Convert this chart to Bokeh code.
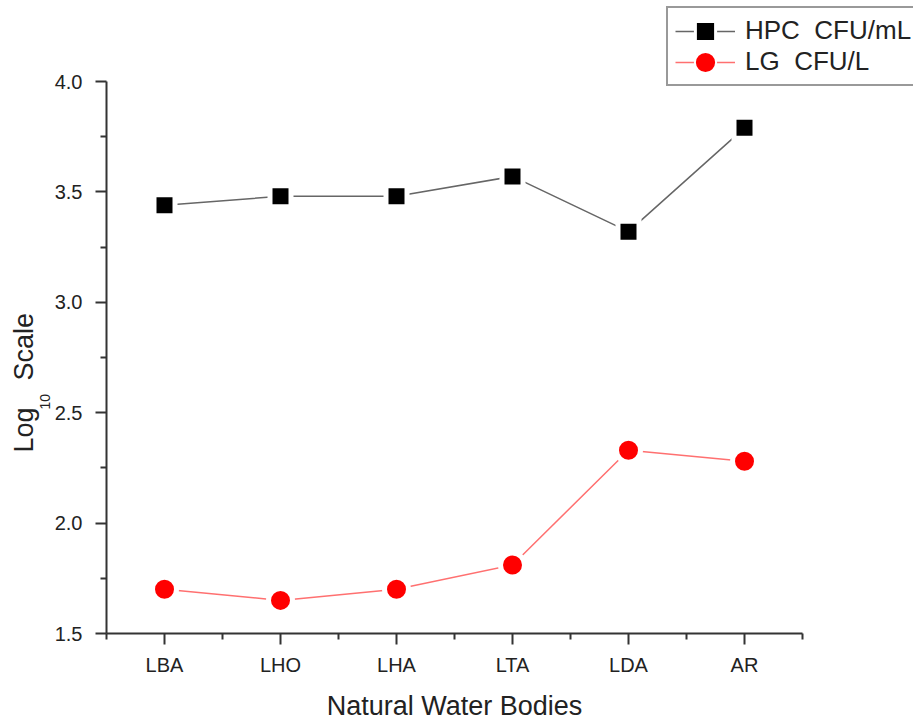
import math
from bokeh.plotting import figure
from bokeh.models import Range1d, FixedTicker, Legend, LegendItem, Label, PrintfTickFormatter
from bokeh.embed import file_html
from bokeh.resources import INLINE

# ---- data ----
sites = ["LBA", "LHO", "LHA", "LTA", "LDA", "AR"]
hpc_log = [3.44, 3.48, 3.48, 3.57, 3.32, 3.79]
lg_log = [1.70, 1.65, 1.70, 1.81, 2.33, 2.28]
y_ticks = [1.5, 2.0, 2.5, 3.0, 3.5, 4.0]
y_minor = [1.75, 2.25, 2.75, 3.25, 3.75]
series_labels = ["HPC  CFU/mL", "LG  CFU/L"]
x_title = "Natural Water Bodies"

xs = list(range(len(sites)))
x_minor = [i - 0.5 for i in range(len(sites) + 1)]

FONT = "Liberation Sans"
TXT = "#222222"
AX = "#333333"

# layout (pixels): canvas size and where the axes box sits on it
W, H = 913, 719
L, R, T, B = 106, 802, 81, 633
X0, X1 = -0.5, len(sites) - 0.5
Y0, Y1 = y_ticks[0], y_ticks[-1]
ux = (X1 - X0) / (R - L)      # data units per pixel
uy = (Y1 - Y0) / (B - T)

def cx(px):   # canvas pixel x -> data x
    return X0 + (px - L) * ux

def cy(py):   # canvas pixel y (top-down) -> data y
    return Y0 + (B - py) * uy

p = figure(width=W, height=H, min_border=0,
           x_range=Range1d(cx(0), cx(W)), y_range=Range1d(cy(H), cy(0)),
           output_backend="svg", toolbar_location=None)
p.outline_line_color = None
p.xgrid.visible = False
p.ygrid.visible = False
p.background_fill_color = "white"
p.border_fill_color = "white"

# series
hpc_line = p.line(xs, hpc_log, line_color="#666666", line_width=1.5)
p.scatter(xs, hpc_log, marker="square", size=21, fill_color="black",
          line_color="white", line_width=5, line_join="miter")
lg_line = p.line(xs, lg_log, line_color="#ff7070", line_width=1.5)
p.scatter(xs, lg_log, marker="circle", size=24, fill_color="#ff0000",
          line_color="white", line_width=5)

# hidden renderers used only for the legend glyphs
hpc_halo = p.scatter(xs, hpc_log, marker="square", size=10, fill_color="white",
                     line_color="white", line_width=12, line_join="miter", visible=False)
hpc_mark = p.scatter(xs, hpc_log, marker="square", size=10, fill_color="black",
                     line_color="black", line_width=6, line_join="miter", visible=False)
lg_halo = p.scatter(xs, lg_log, marker="circle", size=10, fill_color="white",
                    line_color="white", line_width=12, visible=False)
lg_mark = p.scatter(xs, lg_log, marker="circle", size=10, fill_color="#ff0000",
                    line_color="#ff0000", line_width=8, visible=False)

# axes, pinned at the box edges
xa = p.xaxis[0]
ya = p.yaxis[0]
xa.fixed_location = Y0
xa.bounds = (X0, X1)
ya.fixed_location = X0
ya.bounds = (Y0, Y1)
xa.ticker = FixedTicker(ticks=xs, minor_ticks=x_minor)
xa.major_label_overrides = {i: s for i, s in enumerate(sites)}
ya.ticker = FixedTicker(ticks=y_ticks, minor_ticks=y_minor)
ya.formatter = PrintfTickFormatter(format="%.1f")
for ax in (xa, ya):
    ax.axis_line_color = AX
    ax.axis_line_width = 2
    ax.major_tick_line_color = AX
    ax.major_tick_line_width = 2
    ax.minor_tick_line_color = AX
    ax.minor_tick_line_width = 2
    ax.major_tick_in = 0
    ax.major_tick_out = 11
    ax.minor_tick_in = 0
    ax.minor_tick_out = 6
    ax.major_label_text_font = FONT
    ax.major_label_text_font_size = "20px"
    ax.major_label_text_color = TXT
xa.major_label_standoff = 9
ya.major_label_standoff = 13

# axis titles
p.add_layout(Label(x=(X0 + X1) / 2, y=cy(705), text=x_title, text_font=FONT,
                   text_font_size="27px", text_color=TXT, text_align="center",
                   text_baseline="alphabetic"))
for txt, px, py, fs in [("Log", 23.5, 452, "27px"), ("10", 44, 409, "14px"), ("Scale", 23.5, 380, "27px")]:
    p.add_layout(Label(x=cx(px), y=cy(py), text=txt, angle=math.pi / 2,
                       text_font=FONT, text_font_size=fs, text_color=TXT,
                       text_align="left", text_baseline="alphabetic"))

legend = Legend(items=[LegendItem(label=series_labels[0], renderers=[hpc_line, hpc_halo, hpc_mark]),
                       LegendItem(label=series_labels[1], renderers=[lg_line, lg_halo, lg_mark])],
                location=(666, H - 86), glyph_width=60, glyph_height=28, label_height=28,
                spacing=0, padding=7, label_standoff=10, label_width=260,
                label_text_font=FONT, label_text_font_size="26px", label_text_color=TXT,
                border_line_color=AX, border_line_width=2, background_fill_color="white",
                background_fill_alpha=1.0)
p.add_layout(legend)

open("out.html", "w").write(file_html(p, INLINE))
